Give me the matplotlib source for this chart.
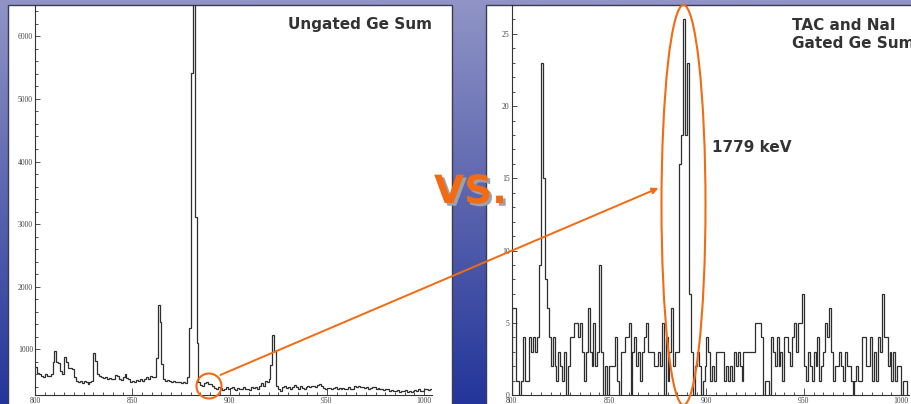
import numpy as np
import matplotlib
matplotlib.use('Agg')
import matplotlib.pyplot as plt
import matplotlib.patheffects as pe
from matplotlib.patches import Rectangle, Ellipse, FancyArrowPatch
from matplotlib.colors import LinearSegmentedColormap
from matplotlib.ticker import MultipleLocator

# channel axis, 1 unit bins
bin_edges = np.arange(800, 1005)

ungated_counts = [
    720, 620, 600, 580, 560, 600, 580, 570, 600, 800,
    980, 800, 780, 650, 600, 880, 790, 700, 700, 680,
    560, 500, 470, 490, 460, 490, 470, 450, 480, 490,
    940, 820, 600, 580, 560, 540, 550, 520, 540, 520,
    530, 590, 580, 530, 510, 560, 600, 540, 520, 480,
    490, 470, 510, 490, 520, 500, 530, 550, 520, 580,
    550, 560, 860, 1710, 1430, 760, 520, 500, 510, 490,
    480, 490, 470, 480, 470, 460, 470, 460, 560, 1340,
    5420, 7000, 3120, 1100, 480, 430, 420, 460, 480, 450,
    440, 410, 380, 360, 400, 380, 350, 370, 390, 360,
    380, 400, 370, 350, 380, 360, 370, 390, 360, 370,
    350, 390, 380, 400, 370, 410, 460, 420, 500, 470,
    520, 750, 1230, 980, 420, 360, 340, 400, 420, 380,
    400, 370, 390, 430, 390, 370, 410, 380, 360, 400,
    410, 400, 410, 410, 400, 430, 440, 410, 380, 370,
    380, 380, 370, 380, 390, 370, 380, 370, 380, 360,
    370, 390, 360, 370, 410, 400, 420, 390, 400, 380,
    390, 370, 380, 400, 390, 370, 380, 360, 370, 350,
    370, 360, 340, 350, 330, 340, 350, 320, 340, 330,
    350, 310, 340, 320, 330, 350, 330, 360, 340, 330,
    360, 370, 350, 360,
]

gated_counts = [
    6, 6, 1, 1, 0, 1, 4, 1, 1, 4,
    3, 4, 3, 4, 9, 23, 15, 8, 6, 4,
    2, 4, 2, 1, 3, 2, 1, 3, 0, 2,
    4, 4, 5, 5, 4, 5, 3, 1, 3, 6,
    3, 2, 5, 2, 3, 9, 3, 0, 2, 0,
    2, 2, 2, 4, 1, 0, 3, 3, 4, 4,
    5, 0, 3, 4, 2, 3, 1, 3, 4, 5,
    3, 3, 3, 2, 2, 3, 2, 5, 0, 4,
    1, 3, 6, 2, 3, 3, 16, 18, 26, 18,
    23, 7, 3, 0, 2, 3, 2, 0, 1, 2,
    4, 3, 1, 2, 1, 3, 3, 3, 3, 1,
    2, 1, 2, 1, 3, 2, 3, 2, 1, 3,
    3, 3, 3, 3, 3, 5, 5, 5, 4, 0,
    1, 1, 0, 4, 3, 2, 4, 2, 3, 1,
    4, 4, 3, 2, 4, 5, 3, 5, 5, 7,
    2, 1, 3, 2, 1, 3, 2, 4, 1, 2,
    3, 5, 4, 6, 3, 1, 2, 2, 3, 2,
    1, 3, 2, 2, 1, 0, 1, 2, 1, 1,
    4, 4, 2, 2, 4, 1, 3, 1, 4, 3,
    7, 4, 4, 2, 3, 1, 3, 1, 2, 2,
    0, 1, 1, 0,
]

x_ticks = [800, 850, 900, 950, 1000]
ungated_yticks = [1000, 2000, 3000, 4000, 5000, 6000]
gated_yticks = [0, 5, 10, 15, 20, 25]

W, H = 912, 404
orange = '#f26a12'
ink = '#333333'

fig = plt.figure(figsize=(W / 100, H / 100), dpi=100)

# slide background with the two white panels
bg = fig.add_axes([0, 0, 1, 1])
grad = np.linspace(0, 1, 256).reshape(-1, 1)
cmap = LinearSegmentedColormap.from_list('slide', ['#9094c6', '#5a64ae', '#23359a'])
bg.imshow(grad, aspect='auto', cmap=cmap, extent=[0, W, H, 0])
bg.set_xlim(0, W)
bg.set_ylim(H, 0)
bg.axis('off')
bg.add_patch(Rectangle((8, 5), 444, 420, facecolor='white', edgecolor='#3c3c50', lw=1))
bg.add_patch(Rectangle((486, 5), 440, 420, facecolor='white', edgecolor='#3c3c50', lw=1))


def px_axes(x0, y0, x1, y1):
    return fig.add_axes([x0 / W, 1 - y1 / H, (x1 - x0) / W, (y1 - y0) / H])


def style(ax, yticks, yminor):
    ax.patch.set_alpha(0)
    for s in ['top', 'right']:
        ax.spines[s].set_visible(False)
    for s in ['left', 'bottom']:
        ax.spines[s].set_color(ink)
        ax.spines[s].set_linewidth(0.8)
    ax.set_xlim(800, 1004)
    ax.set_xticks(x_ticks)
    ax.set_yticks(yticks)
    ax.xaxis.set_minor_locator(MultipleLocator(5))
    ax.yaxis.set_minor_locator(MultipleLocator(yminor))
    ax.tick_params(which='both', direction='in', colors=ink, width=0.6,
                   labelsize=5.5, labelcolor='#444444')
    ax.tick_params(axis='x', which='major', length=5, pad=1.5)
    ax.tick_params(axis='x', which='minor', length=2.5)
    ax.tick_params(axis='y', which='major', length=3.6, pad=1.5)
    ax.tick_params(axis='y', which='minor', length=2)
    for lab in ax.get_xticklabels() + ax.get_yticklabels():
        lab.set_family('Liberation Serif')


axL = px_axes(35, 5, 432, 395)
axL.stairs(ungated_counts, bin_edges, baseline=None, color='#2e2e2e', lw=0.9)
axL.set_ylim(270, 6500)
style(axL, ungated_yticks, 200)

axR = px_axes(511.7, 5, 909, 395)
axR.stairs(gated_counts, bin_edges, baseline=0, color='#2e2e2e', lw=0.9)
axR.set_ylim(0, 27)
style(axR, gated_yticks, 1)

# overlay for labels, circles and arrow (pixel coordinates)
ov = fig.add_axes([0, 0, 1, 1])
ov.set_xlim(0, W)
ov.set_ylim(H, 0)
ov.axis('off')
ov.patch.set_alpha(0)

ov.text(432, 25, 'Ungated Ge Sum', ha='right', va='center', fontsize=11,
        weight='bold', color=ink)
ov.text(792, 35, 'TAC and NaI\nGated Ge Sum', ha='left', va='center', fontsize=11,
        weight='bold', color=ink, linespacing=1.25)
ov.text(712, 147, '1779 keV', ha='left', va='center', fontsize=11,
        weight='bold', color=ink)

ov.add_patch(Ellipse((209, 386), 25, 25, fill=False, ec=orange, lw=1.5))
ov.add_patch(Ellipse((683.5, 205), 44, 400, fill=False, ec=orange, lw=1.5))
ov.add_patch(FancyArrowPatch((218, 376), (661, 187), arrowstyle='-|>',
                             mutation_scale=9, color=orange, lw=1.4))

ov.text(434, 203, 'VS.', ha='left', va='baseline', fontsize=28, weight='bold',
        color=orange,
        path_effects=[pe.withSimplePatchShadow(offset=(2, -2),
                                               shadow_rgbFace='#a0a0a8', alpha=1)])

fig.savefig('out.png', dpi=100)
